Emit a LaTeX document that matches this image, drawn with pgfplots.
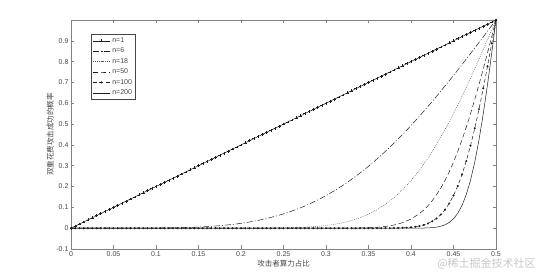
\documentclass[border=0pt]{standalone}
\usepackage{pgfplots}
\pgfplotsset{compat=1.18}
\usepackage{fontspec}
\setmainfont{Liberation Sans}
\newfontfamily\cjk{Noto Sans CJK SC}
\definecolor{axgray}{RGB}{130,130,130}
\definecolor{txtgray}{RGB}{70,70,70}
\definecolor{lin}{RGB}{30,30,30}
\begin{document}
\begin{tikzpicture}
\begin{axis}[
  scale only axis, width=425pt, height=229pt,
  xmin=0, xmax=0.5, ymin=-0.1, ymax=1,
  xtick={0,0.05,0.1,0.15,0.2,0.25,0.3,0.35,0.4,0.45,0.5},
  xticklabels={0,0.05,0.1,0.15,0.2,0.25,0.3,0.35,0.4,0.45,0.5},
  ytick={-0.1,0,0.1,0.2,0.3,0.4,0.5,0.6,0.7,0.8,0.9},
  yticklabels={-0.1,0,0.1,0.2,0.3,0.4,0.5,0.6,0.7,0.8,0.9},
  xtick pos=both, ytick pos=both,
  xticklabel pos=lower, yticklabel pos=left,
  tick align=inside,
  major tick length=3.5pt,
  axis line style={axgray, line width=0.7pt},
  tick style={axgray, line width=0.6pt},
  every tick label/.append style={font=\fontsize{7}{8}\selectfont, text=txtgray},
  xticklabel style={yshift=1pt},
  yticklabel style={xshift=1pt},
  /pgf/number format/assume math mode=true,
  xlabel={\cjk 攻击者算力占比},
  ylabel={\cjk 双重花费攻击成功的概率},
  xlabel style={font=\fontsize{7.5}{9}\selectfont, text=txtgray, at={(axis description cs:0.5,-0.066)}, anchor=center},
  ylabel style={font=\fontsize{7.5}{9}\selectfont, text=txtgray, at={(axis description cs:-0.049,0.5)}, anchor=center, rotate=0},
  legend style={at={(0.047,0.939)}, anchor=north west, font=\fontsize{7}{8}\selectfont, draw=txtgray, inner sep=1.5pt, row sep=0pt, text=txtgray, line width=0.5pt},
  legend cell align=left,
  every axis plot/.append style={line width=0.5pt, lin},
]
\addplot[lin, mark=+, mark size=1.4pt, mark options={solid}] coordinates {
(0,0) (0.005,0.01) (0.01,0.02) (0.015,0.03) (0.02,0.04) (0.025,0.05) (0.03,0.06) (0.035,0.07) (0.04,0.08) (0.045,0.09)
(0.05,0.1) (0.055,0.11) (0.06,0.12) (0.065,0.13) (0.07,0.14) (0.075,0.15) (0.08,0.16) (0.085,0.17) (0.09,0.18) (0.095,0.19)
(0.1,0.2) (0.105,0.21) (0.11,0.22) (0.115,0.23) (0.12,0.24) (0.125,0.25) (0.13,0.26) (0.135,0.27) (0.14,0.28) (0.145,0.29)
(0.15,0.3) (0.155,0.31) (0.16,0.32) (0.165,0.33) (0.17,0.34) (0.175,0.35) (0.18,0.36) (0.185,0.37) (0.19,0.38) (0.195,0.39)
(0.2,0.4) (0.205,0.41) (0.21,0.42) (0.215,0.43) (0.22,0.44) (0.225,0.45) (0.23,0.46) (0.235,0.47) (0.24,0.48) (0.245,0.49)
(0.25,0.5) (0.255,0.51) (0.26,0.52) (0.265,0.53) (0.27,0.54) (0.275,0.55) (0.28,0.56) (0.285,0.57) (0.29,0.58) (0.295,0.59)
(0.3,0.6) (0.305,0.61) (0.31,0.62) (0.315,0.63) (0.32,0.64) (0.325,0.65) (0.33,0.66) (0.335,0.67) (0.34,0.68) (0.345,0.69)
(0.35,0.7) (0.355,0.71) (0.36,0.72) (0.365,0.73) (0.37,0.74) (0.375,0.75) (0.38,0.76) (0.385,0.77) (0.39,0.78) (0.395,0.79)
(0.4,0.8) (0.405,0.81) (0.41,0.82) (0.415,0.83) (0.42,0.84) (0.425,0.85) (0.43,0.86) (0.435,0.87) (0.44,0.88) (0.445,0.89)
(0.45,0.9) (0.455,0.91) (0.46,0.92) (0.465,0.93) (0.47,0.94) (0.475,0.95) (0.48,0.96) (0.485,0.97) (0.49,0.98) (0.495,0.99)
(0.5,1)};
\addlegendentry{n=1}
\addplot[lin, smooth, dash pattern=on 6pt off 2pt on 1pt off 2pt] coordinates {
(0,0) (0.025,0) (0.05,0.00001) (0.075,0.00012) (0.1,0.0006) (0.125,0.0020) (0.15,0.0053) (0.175,0.0119)
(0.2,0.0233) (0.225,0.0416) (0.25,0.0687) (0.275,0.1064) (0.3,0.1564) (0.325,0.2199) (0.35,0.2974)
(0.375,0.3887) (0.4,0.4930) (0.425,0.6088) (0.45,0.7338) (0.475,0.8652) (0.49,0.9459) (0.5,1)};
\addlegendentry{n=6}
\addplot[lin!75, dash pattern=on 0.8pt off 1.2pt] coordinates {
(0,0) (0.1,0) (0.15,0) (0.2,0.0001) (0.22,0.0003) (0.24,0.0008) (0.25,0.0014) (0.26,0.0023) (0.275,0.0046)
(0.28,0.0057) (0.29,0.0087) (0.3,0.0128) (0.31,0.0186) (0.32,0.0264) (0.33,0.0367) (0.34,0.0501) (0.35,0.0672)
(0.36,0.0887) (0.37,0.1148) (0.38,0.1465) (0.39,0.1841) (0.4,0.2282) (0.41,0.2790) (0.42,0.3368) (0.43,0.4016)
(0.44,0.4730) (0.45,0.5505) (0.455,0.5913) (0.46,0.6332) (0.465,0.6763) (0.47,0.7205) (0.475,0.7656)
(0.48,0.8117) (0.485,0.8581) (0.49,0.9051) (0.495,0.9525) (0.5,1)};
\addlegendentry{n=18}
\addplot[lin, dash pattern=on 5pt off 3pt] coordinates {
(0,0) (0.25,0) (0.3,0.00004) (0.32,0.0002) (0.33,0.0005) (0.34,0.0010) (0.35,0.0022) (0.36,0.0044)
(0.37,0.0083) (0.38,0.0151) (0.39,0.0263) (0.4,0.0438) (0.41,0.0702) (0.415,0.0875) (0.42,0.1080)
(0.425,0.1321) (0.43,0.1605) (0.435,0.1926) (0.44,0.2291) (0.445,0.2707) (0.45,0.3173) (0.455,0.3686)
(0.46,0.4244) (0.465,0.4846) (0.47,0.5494) (0.475,0.6177) (0.48,0.6899) (0.485,0.7647) (0.49,0.8419)
(0.495,0.9207) (0.5,1)};
\addlegendentry{n=50}
\addplot[lin, dash pattern=on 4pt off 2.5pt, mark=*, mark size=0.75pt, mark options={solid}] coordinates {
(0,0) (0.005,0) (0.01,0) (0.015,0) (0.02,0) (0.025,0) (0.03,0) (0.035,0) (0.04,0) (0.045,0)
(0.05,0) (0.055,0) (0.06,0) (0.065,0) (0.07,0) (0.075,0) (0.08,0) (0.085,0) (0.09,0) (0.095,0)
(0.1,0) (0.105,0) (0.11,0) (0.115,0) (0.12,0) (0.125,0) (0.13,0) (0.135,0) (0.14,0) (0.145,0)
(0.15,0) (0.155,0) (0.16,0) (0.165,0) (0.17,0) (0.175,0) (0.18,0) (0.185,0) (0.19,0) (0.195,0)
(0.2,0) (0.205,0) (0.21,0) (0.215,0) (0.22,0) (0.225,0) (0.23,0) (0.235,0) (0.24,0) (0.245,0)
(0.25,0) (0.255,0) (0.26,0) (0.265,0) (0.27,0) (0.275,0) (0.28,0) (0.285,0) (0.29,0) (0.295,0)
(0.3,0) (0.305,0) (0.31,0) (0.315,0) (0.32,0) (0.325,0) (0.33,0) (0.335,0) (0.34,0) (0.345,0)
(0.35,0) (0.355,0) (0.36,0) (0.365,0.0001) (0.37,0.0002) (0.375,0.0003) (0.38,0.0006) (0.385,0.0010)
(0.39,0.0017) (0.395,0.0027) (0.4,0.0043) (0.405,0.0068) (0.41,0.0104) (0.415,0.0156) (0.42,0.0229)
(0.425,0.0331) (0.43,0.0469) (0.435,0.0652) (0.44,0.0889) (0.445,0.1191) (0.45,0.1568) (0.455,0.2027)
(0.46,0.2577) (0.465,0.3222) (0.47,0.3963) (0.475,0.4798) (0.48,0.5719) (0.485,0.6717) (0.49,0.7776)
(0.495,0.8877) (0.5,1)};
\addlegendentry{n=100}
\addplot[lin] coordinates {
(0,0) (0.38,0) (0.4,0.00005) (0.41,0.0003) (0.42,0.0013) (0.425,0.0026) (0.43,0.0049) (0.435,0.0091)
(0.44,0.0161) (0.445,0.0274) (0.45,0.0451) (0.455,0.0713) (0.46,0.1090) (0.465,0.1613) (0.47,0.2296)
(0.475,0.3173) (0.48,0.4241) (0.485,0.5489) (0.49,0.6895) (0.495,0.8416) (0.5,1)};
\addlegendentry{n=200}
\end{axis}
\node[text=black!22, font=\cjk\fontsize{11}{12}\selectfont] at ([xshift=-9.5pt,yshift=-15pt]current axis.south east) {@稀土掘金技术社区};
\path ([xshift=-71pt,yshift=-31pt]current axis.south west) rectangle ([xshift=52pt,yshift=20pt]current axis.north east);
\end{tikzpicture}
\end{document}
